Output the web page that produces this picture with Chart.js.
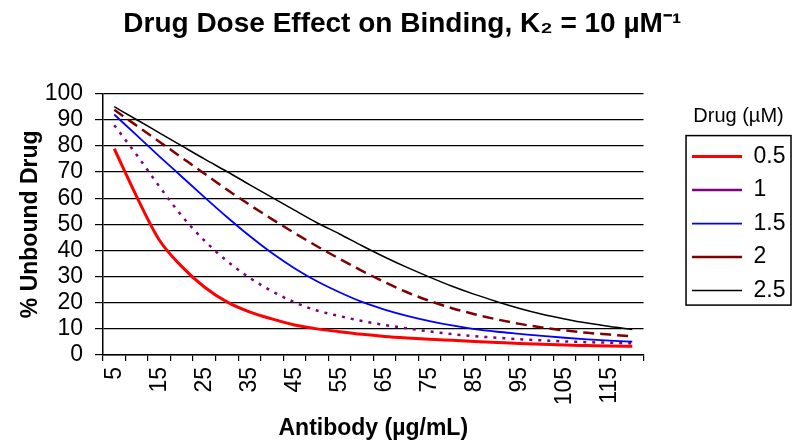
<!DOCTYPE html>
<html>
<head>
<meta charset="utf-8">
<script src="https://cdn.jsdelivr.net/npm/chart.js@4.4.1/dist/chart.umd.min.js"></script>
<style>
  html, body { margin: 0; padding: 0; background: #ffffff; }
  #wrap { width: 800px; height: 446px; }
</style>
</head>
<body>
<div id="wrap"><canvas id="c" width="800" height="446"></canvas></div>
<script>
// ---- data ----
const antibody = [5, 10, 15, 20, 25, 30, 35, 40, 45, 50, 55, 60, 65, 70, 75, 80, 85, 90, 95, 100, 105, 110, 115, 120];
const seriesNames = ['0.5', '1', '1.5', '2', '2.5'];
const drug05 = [78.9, 60.5, 44.0, 33.8, 26.0, 20.3, 16.5, 13.8, 11.5, 10.0, 8.9, 7.9, 7.1, 6.5, 6.0, 5.6, 5.2, 4.8, 4.4, 4.1, 3.8, 3.6, 3.4, 3.3];
const drug1  = [87.9, 76.5, 64.5, 53.2, 43.8, 36.0, 29.6, 24.4, 20.2, 17.0, 14.9, 13.0, 11.5, 10.2, 9.0, 8.0, 7.2, 6.6, 6.0, 5.6, 5.2, 4.9, 4.7, 4.5];
const drug15 = [92.0, 84.0, 76.0, 68.2, 60.4, 52.8, 45.6, 39.0, 33.2, 28.2, 24.0, 20.3, 17.4, 15.0, 13.0, 11.3, 9.9, 8.9, 8.1, 7.3, 6.6, 6.0, 5.5, 5.1];
const drug2  = [93.8, 87.7, 81.6, 75.5, 69.4, 63.3, 57.5, 52.0, 46.7, 41.6, 36.8, 32.2, 27.9, 24.0, 20.7, 17.9, 15.6, 13.6, 11.9, 10.5, 9.4, 8.5, 7.8, 7.1];
const drug25 = [95.0, 90.0, 85.0, 80.0, 75.0, 70.2, 65.2, 60.3, 55.4, 50.6, 46.3, 41.8, 37.5, 33.5, 29.8, 26.3, 23.2, 20.4, 17.8, 15.6, 13.8, 12.2, 10.9, 9.8];
const yTicks = [0, 10, 20, 30, 40, 50, 60, 70, 80, 90, 100];

const FONT = "'Liberation Sans', Arial, Helvetica, sans-serif";
Chart.defaults.font.family = FONT;
Chart.defaults.color = '#000000';

const LEGEND_GAP = 38;
const LEGEND_FONT = 23;
const LEGEND_PAD = 10.5;
const LEGEND_TITLE_FONT = 20;
const LEGEND_TITLE_PAD = { top: 13, bottom: 4 };

// widen the legend slot so there is space between the plot and the legend, and frame the items
const legendShift = {
  id: 'legendShift',
  beforeLayout(chart) {
    const lg = chart.legend;
    if (lg && !lg._gapPatched) {
      const fit = lg.fit;
      lg.fit = function () { fit.call(this); this.width += LEGEND_GAP; };
      lg._gapPatched = true;
    }
  },
  afterLayout(chart) {
    const lg = chart.legend;
    if (lg) { lg.left += LEGEND_GAP; lg.width -= LEGEND_GAP; }
  },
  afterDraw(chart) {
    const lg = chart.legend;
    if (!lg) return;
    const titleH = LEGEND_TITLE_FONT * 1.2 + LEGEND_TITLE_PAD.top + LEGEND_TITLE_PAD.bottom;
    const y0 = lg.top + titleH + LEGEND_PAD;
    const n = lg.legendItems.length;
    const y1 = y0 + n * (LEGEND_FONT + LEGEND_PAD) - LEGEND_PAD;
    const ctx = chart.ctx;
    ctx.save();
    ctx.strokeStyle = '#000000';
    ctx.lineWidth = 1.5;
    ctx.setLineDash([]);
    ctx.strokeRect(lg.left + 4.5, y0 - 9.5, lg.width - 9, (y1 + 3) - (y0 - 9.5));
    ctx.restore();
  }
};

const styles = [
  { color: '#ff0000', width: 3,   dash: [] },
  { color: '#800080', width: 2.5, dash: [3, 6] },
  { color: '#0000ff', width: 1.8, dash: [] },
  { color: '#800000', width: 2.5, dash: [11, 6] },
  { color: '#000000', width: 1.5, dash: [] }
];
const seriesData = [drug05, drug1, drug15, drug2, drug25];

const datasets = seriesData.map((d, i) => ({
  label: seriesNames[i],
  data: d,
  borderColor: styles[i].color,
  backgroundColor: styles[i].color,
  borderWidth: styles[i].width,
  borderDash: styles[i].dash,
  pointRadius: 0,
  pointHoverRadius: 0,
  fill: false,
  cubicInterpolationMode: 'monotone',
  order: seriesData.length - 1 - i
}));

new Chart(document.getElementById('c'), {
  type: 'line',
  data: { labels: antibody.map(String), datasets },
  plugins: [legendShift],
  options: {
    responsive: false,
    animation: false,
    layout: { padding: { left: 9, right: 4.5, top: 0, bottom: 4 } },
    plugins: {
      title: {
        display: true,
        text: 'Drug Dose Effect on Binding, K\u2082 = 10 \u00B5M\u207B\u00B9',
        color: '#000000',
        font: { size: 28, weight: 'bold' },
        padding: { top: 7, bottom: 53 }
      },
      legend: {
        position: 'right',
        align: 'start',
        fullSize: false,
        title: {
          display: true,
          text: 'Drug (\u00B5M)',
          color: '#000000',
          font: { size: LEGEND_TITLE_FONT },
          padding: LEGEND_TITLE_PAD
        },
        labels: {
          usePointStyle: true,
          pointStyle: 'line',
          pointStyleWidth: 50,
          padding: LEGEND_PAD,
          color: '#000000',
          font: { size: LEGEND_FONT },
          sort: (a, b) => a.datasetIndex - b.datasetIndex
        }
      },
      tooltip: { enabled: false }
    },
    scales: {
      x: {
        type: 'category',
        offset: true,
        afterFit: (scale) => { scale.height = 87; },
        grid: {
          offset: true,
          drawOnChartArea: false,
          drawTicks: true,
          tickLength: 6,
          color: '#000000',
          lineWidth: 1.2
        },
        border: { display: true, color: '#000000', width: 1.5 },
        ticks: {
          autoSkip: false,
          maxRotation: 90,
          minRotation: 90,
          padding: 6,
          color: '#000000',
          font: { size: 23 },
          callback: function (val, idx) { return idx % 2 === 0 ? this.getLabelForValue(val) : ''; }
        },
        title: {
          display: true,
          text: 'Antibody (\u00B5g/mL)',
          color: '#000000',
          font: { size: 23, weight: 'bold' },
          padding: { top: 9, bottom: 0 }
        }
      },
      y: {
        min: 0,
        max: 100,
        afterBuildTicks: (scale) => { scale.ticks = yTicks.map(v => ({ value: v })); },
        afterFit: (scale) => { scale.width = 94; },
        grid: {
          color: '#000000',
          lineWidth: 1.2,
          drawTicks: true,
          tickLength: 8
        },
        border: { display: true, color: '#000000', width: 1.5 },
        ticks: {
          autoSkip: false,
          stepSize: 10,
          padding: 12,
          color: '#000000',
          font: { size: 23 }
        },
        title: {
          display: true,
          text: '% Unbound Drug',
          color: '#000000',
          font: { size: 23, weight: 'bold' },
          padding: { top: 8, bottom: 4 }
        }
      }
    }
  }
});
</script>
</body>
</html>
